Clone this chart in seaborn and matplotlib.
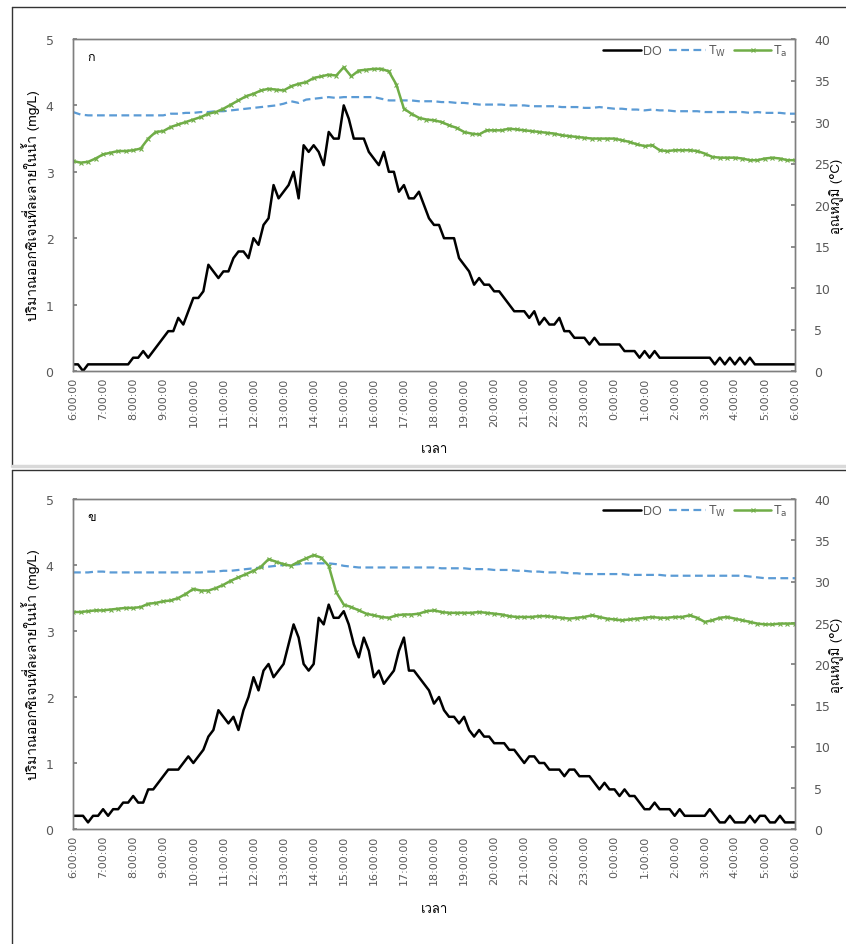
import numpy as np
import matplotlib
matplotlib.use("Agg")
import matplotlib.pyplot as plt
import seaborn as sns
from matplotlib import font_manager as fm
from matplotlib.lines import Line2D

# ---------------- data ----------------
hour_labels = ["6:00:00", "7:00:00", "8:00:00", "9:00:00", "10:00:00", "11:00:00",
               "12:00:00", "13:00:00", "14:00:00", "15:00:00", "16:00:00", "17:00:00",
               "18:00:00", "19:00:00", "20:00:00", "21:00:00", "22:00:00", "23:00:00",
               "0:00:00", "1:00:00", "2:00:00", "3:00:00", "4:00:00", "5:00:00", "6:00:00"]

# DO (mg/L), every 10 minutes from 6:00 to 6:00
do_a = [0.1, 0.1, 0.0, 0.1, 0.1, 0.1,
        0.1, 0.1, 0.1, 0.1, 0.1, 0.1,
        0.2, 0.2, 0.3, 0.2, 0.3, 0.4,
        0.5, 0.6, 0.6, 0.8, 0.7, 0.9,
        1.1, 1.1, 1.2, 1.6, 1.5, 1.4,
        1.5, 1.5, 1.7, 1.8, 1.8, 1.7,
        2.0, 1.9, 2.2, 2.3, 2.8, 2.6,
        2.7, 2.8, 3.0, 2.6, 3.4, 3.3,
        3.4, 3.3, 3.1, 3.6, 3.5, 3.5,
        4.0, 3.8, 3.5, 3.5, 3.5, 3.3,
        3.2, 3.1, 3.3, 3.0, 3.0, 2.7,
        2.8, 2.6, 2.6, 2.7, 2.5, 2.3,
        2.2, 2.2, 2.0, 2.0, 2.0, 1.7,
        1.6, 1.5, 1.3, 1.4, 1.3, 1.3,
        1.2, 1.2, 1.1, 1.0, 0.9, 0.9,
        0.9, 0.8, 0.9, 0.7, 0.8, 0.7,
        0.7, 0.8, 0.6, 0.6, 0.5, 0.5,
        0.5, 0.4, 0.5, 0.4, 0.4, 0.4,
        0.4, 0.4, 0.3, 0.3, 0.3, 0.2,
        0.3, 0.2, 0.3, 0.2, 0.2, 0.2,
        0.2, 0.2, 0.2, 0.2, 0.2, 0.2,
        0.2, 0.2, 0.1, 0.2, 0.1, 0.2,
        0.1, 0.2, 0.1, 0.2, 0.1, 0.1,
        0.1, 0.1, 0.1, 0.1, 0.1, 0.1,
        0.1]

do_b = [0.2, 0.2, 0.2, 0.1, 0.2, 0.2,
        0.3, 0.2, 0.3, 0.3, 0.4, 0.4,
        0.5, 0.4, 0.4, 0.6, 0.6, 0.7,
        0.8, 0.9, 0.9, 0.9, 1.0, 1.1,
        1.0, 1.1, 1.2, 1.4, 1.5, 1.8,
        1.7, 1.6, 1.7, 1.5, 1.8, 2.0,
        2.3, 2.1, 2.4, 2.5, 2.3, 2.4,
        2.5, 2.8, 3.1, 2.9, 2.5, 2.4,
        2.5, 3.2, 3.1, 3.4, 3.2, 3.2,
        3.3, 3.1, 2.8, 2.6, 2.9, 2.7,
        2.3, 2.4, 2.2, 2.3, 2.4, 2.7,
        2.9, 2.4, 2.4, 2.3, 2.2, 2.1,
        1.9, 2.0, 1.8, 1.7, 1.7, 1.6,
        1.7, 1.5, 1.4, 1.5, 1.4, 1.4,
        1.3, 1.3, 1.3, 1.2, 1.2, 1.1,
        1.0, 1.1, 1.1, 1.0, 1.0, 0.9,
        0.9, 0.9, 0.8, 0.9, 0.9, 0.8,
        0.8, 0.8, 0.7, 0.6, 0.7, 0.6,
        0.6, 0.5, 0.6, 0.5, 0.5, 0.4,
        0.3, 0.3, 0.4, 0.3, 0.3, 0.3,
        0.2, 0.3, 0.2, 0.2, 0.2, 0.2,
        0.2, 0.3, 0.2, 0.1, 0.1, 0.2,
        0.1, 0.1, 0.1, 0.2, 0.1, 0.2,
        0.2, 0.1, 0.1, 0.2, 0.1, 0.1,
        0.1]

# Water temperature Tw (°C), every 15 minutes
tw_a = [31.2, 30.9, 30.8, 30.8,
        30.8, 30.8, 30.8, 30.8,
        30.8, 30.8, 30.8, 30.8,
        30.8, 31.0, 31.0, 31.1,
        31.1, 31.2, 31.2, 31.3,
        31.3, 31.4, 31.5, 31.6,
        31.7, 31.8, 31.9, 32.0,
        32.2, 32.5, 32.3, 32.7,
        32.8, 32.9, 33.0, 32.9,
        33.0, 33.0, 33.0, 33.0,
        33.0, 32.8, 32.6, 32.6,
        32.6, 32.6, 32.5, 32.5,
        32.5, 32.4, 32.4, 32.3,
        32.3, 32.2, 32.1, 32.1,
        32.1, 32.1, 32.0, 32.0,
        32.0, 31.9, 31.9, 31.9,
        31.9, 31.8, 31.8, 31.8,
        31.7, 31.7, 31.8, 31.7,
        31.6, 31.6, 31.5, 31.5,
        31.4, 31.5, 31.4, 31.4,
        31.3, 31.3, 31.3, 31.3,
        31.2, 31.2, 31.2, 31.2,
        31.2, 31.2, 31.1, 31.2,
        31.1, 31.1, 31.1, 31.0,
        31.0]

tw_b = [31.1, 31.1, 31.1, 31.2,
        31.2, 31.1, 31.1, 31.1,
        31.1, 31.1, 31.1, 31.1,
        31.1, 31.1, 31.1, 31.1,
        31.1, 31.1, 31.2, 31.2,
        31.3, 31.3, 31.4, 31.5,
        31.6, 31.7, 31.8, 31.9,
        32.0, 32.0, 32.1, 32.2,
        32.2, 32.2, 32.2, 32.1,
        31.9, 31.8, 31.7, 31.7,
        31.7, 31.7, 31.7, 31.7,
        31.7, 31.7, 31.7, 31.7,
        31.7, 31.6, 31.6, 31.6,
        31.6, 31.5, 31.5, 31.5,
        31.4, 31.4, 31.4, 31.3,
        31.3, 31.2, 31.2, 31.1,
        31.1, 31.1, 31.0, 31.0,
        30.9, 30.9, 30.9, 30.9,
        30.9, 30.9, 30.8, 30.8,
        30.8, 30.8, 30.8, 30.7,
        30.7, 30.7, 30.7, 30.7,
        30.7, 30.7, 30.7, 30.7,
        30.7, 30.7, 30.6, 30.5,
        30.4, 30.4, 30.4, 30.4,
        30.4]

# Air temperature Ta (°C), every 15 minutes
ta_a = [25.3, 25.1, 25.2, 25.6,
        26.1, 26.3, 26.5, 26.5,
        26.6, 26.8, 28.0, 28.8,
        28.9, 29.4, 29.7, 30.0,
        30.3, 30.6, 31.0, 31.2,
        31.6, 32.1, 32.6, 33.1,
        33.4, 33.8, 34.0, 33.9,
        33.8, 34.3, 34.6, 34.8,
        35.3, 35.5, 35.7, 35.6,
        36.6, 35.5, 36.2, 36.3,
        36.4, 36.4, 36.1, 34.5,
        31.6, 31.0, 30.5, 30.3,
        30.2, 30.0, 29.6, 29.3,
        28.8, 28.6, 28.5, 29.0,
        29.0, 29.0, 29.2, 29.1,
        29.0, 28.9, 28.8, 28.7,
        28.6, 28.4, 28.3, 28.2,
        28.1, 28.0, 28.0, 28.0,
        28.0, 27.8, 27.6, 27.3,
        27.1, 27.2, 26.6, 26.5,
        26.6, 26.6, 26.6, 26.5,
        26.2, 25.8, 25.7, 25.7,
        25.7, 25.6, 25.4, 25.4,
        25.6, 25.7, 25.6, 25.4,
        25.4]

ta_b = [26.3, 26.3, 26.4, 26.5,
        26.5, 26.6, 26.7, 26.8,
        26.8, 26.9, 27.3, 27.4,
        27.6, 27.7, 28.0, 28.5,
        29.1, 28.9, 28.9, 29.2,
        29.6, 30.1, 30.5, 30.9,
        31.3, 31.8, 32.7, 32.4,
        32.1, 31.9, 32.4, 32.8,
        33.2, 32.9, 31.9, 28.7,
        27.2, 26.9, 26.5, 26.1,
        25.9, 25.7, 25.6, 25.9,
        26.0, 26.0, 26.1, 26.4,
        26.5, 26.3, 26.2, 26.2,
        26.2, 26.2, 26.3, 26.2,
        26.1, 26.0, 25.8, 25.7,
        25.7, 25.7, 25.8, 25.8,
        25.7, 25.6, 25.5, 25.6,
        25.7, 25.9, 25.7, 25.5,
        25.4, 25.3, 25.4, 25.5,
        25.6, 25.7, 25.6, 25.6,
        25.7, 25.7, 25.9, 25.6,
        25.1, 25.3, 25.6, 25.7,
        25.5, 25.3, 25.1, 24.9,
        24.8, 24.8, 24.9, 24.9,
        24.9]

panel_tags = ["ก", "ข"]
left_label = "ปริมาณออกซิเจนที่ละลายในน้ำ (mg/L)"
right_label = "อุณหภูมิ (°C)"
x_label = "เวลา"

# --------------- fonts ---------------
sns.set_theme(style="white")
thai_family = None
try:
    from fontTools.ttLib import TTFont
    for f in fm.fontManager.ttflist:
        try:
            tt = TTFont(f.fname, fontNumber=0, lazy=True)
            cmap = tt.getBestCmap()
            if cmap and 0x0E01 in cmap and 0x0E19 in cmap and 0x0E33 in cmap:
                thai_family = f.name
                break
        except Exception:
            pass
except Exception:
    pass
families = ["DejaVu Sans"]
if thai_family:
    families = [thai_family, "DejaVu Sans"]
plt.rcParams["font.family"] = families

GREY = "#595959"
C_DO = "black"
C_TW = "#5B9BD5"
C_TA = "#70AD47"

t10 = np.arange(len(do_a)) / 6.0
t15 = np.arange(len(tw_a)) / 4.0

W, H = 846, 945
fig = plt.figure(figsize=(W / 100, H / 100), dpi=100)

def fx(px):
    return px / W

def fy(py):
    return 1 - py / H

# panel border boxes
for (y0, y1) in [(8, 467), (471, 950)]:
    fig.add_artist(Line2D([fx(12), fx(12)], [fy(y0), fy(y1)], color="#333333", lw=1.0))
    fig.add_artist(Line2D([fx(12), fx(850)], [fy(y0), fy(y0)], color="#333333", lw=1.0))
fig.add_artist(Line2D([fx(12), fx(850)], [fy(467), fy(467)], color="#d9d9d9", lw=2.5))

panels = [
    (40, 372, do_a, tw_a, ta_a, panel_tags[0], 450),
    (500, 830, do_b, tw_b, ta_b, panel_tags[1], 910),
]

for (ytop, ybot, do, tw, ta, tag, xlab_y) in panels:
    ax = fig.add_axes([fx(73), fy(ybot), fx(795) - fx(73), fy(ytop) - fy(ybot)])
    ax2 = ax.twinx()
    sns.lineplot(x=t10, y=do, ax=ax, color=C_DO, lw=1.8, label="DO", legend=False)
    sns.lineplot(x=t15, y=tw, ax=ax2, color=C_TW, lw=1.6, linestyle=(0, (3.5, 2)),
                 label="T$_\\mathrm{W}$", legend=False)
    sns.lineplot(x=t15, y=ta, ax=ax2, color=C_TA, lw=1.8, marker="x", markersize=3,
                 markeredgewidth=0.8, markeredgecolor=C_TA, label="T$_\\mathrm{a}$", legend=False)

    ax.set_xlim(0, 24)
    ax.set_ylim(0, 5)
    ax2.set_ylim(0, 40)
    ax.set_xticks(range(25))
    ax.set_xticklabels(hour_labels, rotation=90, fontsize=8, color=GREY,
                       family="DejaVu Sans")
    ax.set_yticks(range(6))
    ax.set_yticklabels([str(v) for v in range(6)], fontsize=9, color=GREY,
                       family="DejaVu Sans")
    ax2.set_yticks(range(0, 41, 5))
    ax2.set_yticklabels([str(v) for v in range(0, 41, 5)], fontsize=9, color=GREY,
                        family="DejaVu Sans")
    ax.tick_params(axis="x", length=0, pad=4)
    ax.tick_params(axis="y", direction="in", length=3, color="#7f7f7f", pad=14)
    ax2.tick_params(axis="y", direction="in", length=3, color="#7f7f7f", pad=14)
    for a in (ax, ax2):
        for s in a.spines.values():
            s.set_visible(True)
            s.set_color("#7f7f7f")
            s.set_linewidth(1.0)
    ax.set_xlabel("")
    ax.set_ylabel("")
    ax2.set_ylabel("")

    fig.text(fx(31), fy((ytop + ybot) / 2), left_label, rotation=90, ha="center",
             va="center", fontsize=10, color="black")
    fig.text(fx(837), fy((ytop + ybot) / 2 - 10), right_label, rotation=90, ha="center",
             va="center", fontsize=9.5, color="black")
    fig.text(fx(434), fy(xlab_y), x_label, ha="center", va="center", fontsize=9.5,
             color="black")
    ax.text(0.02, 0.945, tag, transform=ax.transAxes, fontsize=9, ha="left", va="center",
            color="black")

    h1, l1 = ax.get_legend_handles_labels()
    h2, l2 = ax2.get_legend_handles_labels()
    leg = ax2.legend(h1 + h2, l1 + l2, loc="upper right", bbox_to_anchor=(1.0, 1.01),
                     ncol=3, frameon=False, fontsize=9, handlelength=3.0,
                     handletextpad=0.15, columnspacing=0.6, borderaxespad=0.2)
    for txt in leg.get_texts():
        txt.set_color(GREY)

fig.savefig("out.png", dpi=100)
